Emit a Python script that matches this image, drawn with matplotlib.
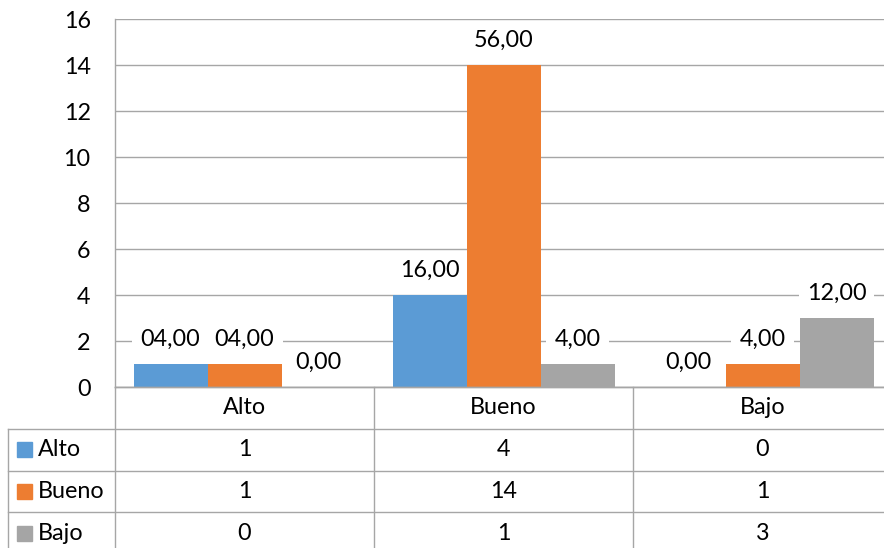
import matplotlib
matplotlib.use("Agg")
import matplotlib.pyplot as plt
from matplotlib.transforms import blended_transform_factory
from matplotlib.patches import Rectangle

plt.rcParams['font.family'] = ['Lato', 'DejaVu Sans']

# Data
categories = ['Alto', 'Bueno', 'Bajo']
series_names = ['Alto', 'Bueno', 'Bajo']
alto = [1, 4, 0]
bueno = [1, 14, 1]
bajo = [0, 1, 3]
alto_labels = ['04,00', '16,00', '0,00']
bueno_labels = ['04,00', '56,00', '4,00']
bajo_labels = ['0,00', '4,00', '12,00']
y_ticks = [0, 2, 4, 6, 8, 10, 12, 14, 16]

series_values = [alto, bueno, bajo]
series_labels = [alto_labels, bueno_labels, bajo_labels]
colors = ['#5B9BD5', '#ED7D31', '#A5A5A5']
line_color = '#A6A6A6'
FS = 16.8

W, H = 884, 548
fig = plt.figure(figsize=(W / 100, H / 100), dpi=100)

# Plot area (pixel geometry converted to figure fractions)
px_left, px_right, px_top, px_bottom = 115, 892, 19, 387
ax = fig.add_axes([px_left / W, 1 - px_bottom / H,
                   (px_right - px_left) / W, (px_bottom - px_top) / H])
ax.set_xlim(-0.5, len(categories) - 0.5)
ax.set_ylim(0, 16)
ax.set_yticks(y_ticks)
ax.set_yticklabels([str(t) for t in y_ticks], fontsize=FS, color='#000000')
ax.tick_params(axis='y', length=0, pad=17.5)
ax.set_xticks([])
ax.set_axisbelow(True)
ax.yaxis.grid(True, color=line_color, linewidth=1.0)
for side in ['top', 'right']:
    ax.spines[side].set_visible(False)
ax.spines['left'].set_color(line_color)
ax.spines['bottom'].set_color(line_color)
ax.spines['left'].set_linewidth(1.0)
ax.spines['bottom'].set_linewidth(1.0)

bar_w = 74 / 259
offsets = [-bar_w, 0, bar_w]
for vals, labs, col, off in zip(series_values, series_labels, colors, offsets):
    xs = [i + off for i in range(len(categories))]
    ax.bar(xs, vals, width=bar_w, color=col, zorder=2)
    for x, v, lab in zip(xs, vals, labs):
        ax.annotate(lab, xy=(x, v), xytext=(0, 13), textcoords='offset points',
                    ha='center', va='baseline', fontsize=FS, zorder=4,
                    bbox=dict(boxstyle='square,pad=0.35', fc='white', ec='none'))

# Data table under the plot area
row_h = 41.75
n_rows = 1 + len(series_names)
tab_top = px_bottom
tab_bottom = tab_top + n_rows * row_h
tab = fig.add_axes([px_left / W, 1 - tab_bottom / H,
                    (px_right - px_left) / W, (tab_bottom - tab_top) / H])
tab.set_xlim(ax.get_xlim())
tab.set_ylim(n_rows, 0)
tab.axis('off')

tfig = blended_transform_factory(fig.transFigure, tab.transData)
head_left = 8 / W
right_edge = 1.0

# horizontal rules
tab.plot([-0.5, 2.5], [0, 0], color=line_color, lw=1.0, clip_on=False)
for r in range(1, n_rows):
    tab.plot([head_left, right_edge], [r, r], color=line_color, lw=1.0,
             transform=tfig, clip_on=False)
# vertical rules
for xv in [-0.5, 0.5, 1.5]:
    tab.plot([xv, xv], [0, n_rows], color=line_color, lw=1.0, clip_on=False)
tab.plot([head_left, head_left], [1, n_rows], color=line_color, lw=1.0,
         transform=tfig, clip_on=False)

# category header row
for i, c in enumerate(categories):
    tab.text(i, 0.5, c, ha='center', va='center', fontsize=FS)

# series rows
for r, (name, vals, col) in enumerate(zip(series_names, series_values, colors), start=1):
    tab.add_patch(Rectangle((17 / W, r + 0.5 - 0.18), 15 / W, 0.36,
                            transform=tfig, color=col, clip_on=False))
    tab.text(38 / W, r + 0.5, name, transform=tfig, ha='left', va='center', fontsize=FS)
    for i, v in enumerate(vals):
        tab.text(i, r + 0.5, str(v), ha='center', va='center', fontsize=FS)

fig.savefig('out.png', dpi=100)
